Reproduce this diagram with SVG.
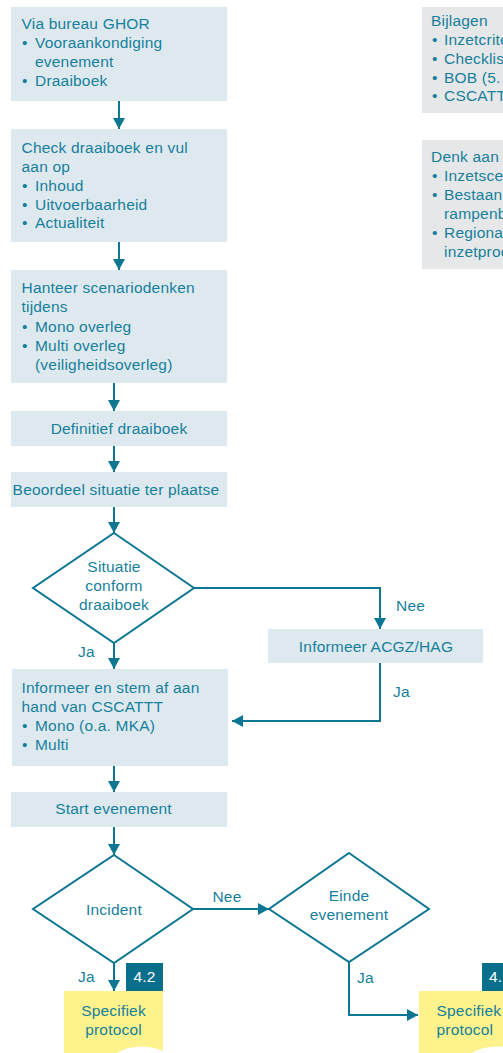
<svg xmlns="http://www.w3.org/2000/svg" width="503" height="1053" viewBox="0 0 503 1053">
<style>
text{font-family:"Liberation Sans",Arial,Helvetica,sans-serif;font-size:15.5px;letter-spacing:0.2px;fill:#167f9c}
.box{fill:#dee9ef}
.gray{fill:#e6e7e8}
.dia{fill:#ffffff;stroke:#0c7693;stroke-width:2}
.doc{fill:#fdf28b}
.badge{fill:#0a6f8b}
.bt{fill:#ffffff}
.c{text-anchor:middle}
.ln{fill:none;stroke:#0c7693;stroke-width:2}
</style>
<defs>
<marker id="ah" markerUnits="userSpaceOnUse" markerWidth="12" markerHeight="12" refX="11" refY="6" orient="auto">
<path d="M0,0 L11,6 L0,12 z" fill="#0c7693"/>
</marker>
</defs>
<rect width="503" height="1053" fill="#ffffff"/>

<g id="connectors">
<path class="ln" d="M119,101 V129" marker-end="url(#ah)"/>
<path class="ln" d="M119,242 V270" marker-end="url(#ah)"/>
<path class="ln" d="M114,383 V411" marker-end="url(#ah)"/>
<path class="ln" d="M114,446 V472" marker-end="url(#ah)"/>
<path class="ln" d="M114,507 V533" marker-end="url(#ah)"/>
<path class="ln" d="M194,588 H380 V629" marker-end="url(#ah)"/>
<path class="ln" d="M114,643 V669" marker-end="url(#ah)"/>
<path class="ln" d="M380,663 V721 H232" marker-end="url(#ah)"/>
<path class="ln" d="M114,766 V792" marker-end="url(#ah)"/>
<path class="ln" d="M114,827 V855" marker-end="url(#ah)"/>
<path class="ln" d="M193,909 H269" marker-end="url(#ah)"/>
<path class="ln" d="M114,963 V991" marker-end="url(#ah)"/>
<path class="ln" d="M349,962 V1015 H418" marker-end="url(#ah)"/>
<text x="396" y="611">Nee</text>
<text x="78" y="657">Ja</text>
<text x="393" y="697">Ja</text>
<text x="227" y="902" class="c">Nee</text>
<text x="78" y="982">Ja</text>
<text x="357" y="983">Ja</text>
</g>

<g id="n-via">
<rect class="box" x="11" y="7" width="216" height="94"/>
<text x="21.5" y="29">Via bureau GHOR</text>
<text x="22" y="48">•</text><text x="35" y="48">Vooraankondiging</text>
<text x="35" y="67">evenement</text>
<text x="22" y="86">•</text><text x="35" y="86">Draaiboek</text>
</g>

<g id="n-check">
<rect class="box" x="11" y="129" width="216" height="113"/>
<text x="21.5" y="152.5">Check draaiboek en vul</text>
<text x="21.5" y="171.5">aan op</text>
<text x="22" y="190.5">•</text><text x="35" y="190.5">Inhoud</text>
<text x="22" y="209.5">•</text><text x="35" y="209.5">Uitvoerbaarheid</text>
<text x="22" y="228">•</text><text x="35" y="228">Actualiteit</text>
</g>

<g id="n-hanteer">
<rect class="box" x="11" y="270" width="216" height="113"/>
<text x="21.5" y="293">Hanteer scenariodenken</text>
<text x="21.5" y="312">tijdens</text>
<text x="22" y="332">•</text><text x="35" y="332">Mono overleg</text>
<text x="22" y="351">•</text><text x="35" y="351">Multi overleg</text>
<text x="35" y="370">(veiligheidsoverleg)</text>
</g>

<g id="n-definitief">
<rect class="box" x="11" y="411" width="216" height="35"/>
<text x="119" y="433.5" class="c">Definitief draaiboek</text>
</g>

<g id="n-beoordeel">
<rect class="box" x="11" y="472" width="216" height="35"/>
<text x="116" y="495" class="c">Beoordeel situatie ter plaatse</text>
</g>

<g id="n-situatie">
<polygon class="dia" points="114,533 194,588 114,643 33,588"/>
<text x="114" y="571.5" class="c">Situatie</text>
<text x="114" y="590.5" class="c">conform</text>
<text x="114" y="609.5" class="c">draaiboek</text>
</g>

<g id="n-acgz">
<rect class="box" x="268" y="629" width="215" height="34"/>
<text x="376" y="652.3" class="c">Informeer ACGZ/HAG</text>
</g>

<g id="n-informeer">
<rect class="box" x="12" y="669" width="216" height="97"/>
<text x="21.5" y="693">Informeer en stem af aan</text>
<text x="21.5" y="712">hand van CSCATTT</text>
<text x="22" y="731">•</text><text x="35" y="731">Mono (o.a. MKA)</text>
<text x="22" y="750">•</text><text x="35" y="750">Multi</text>
</g>

<g id="n-start">
<rect class="box" x="11" y="792" width="216" height="35"/>
<text x="113.5" y="814.3" class="c">Start evenement</text>
</g>

<g id="n-incident">
<polygon class="dia" points="114,855 193,909 114,963 33,909"/>
<text x="114" y="915" class="c">Incident</text>
</g>

<g id="n-einde">
<polygon class="dia" points="349,853 429,909 349,962 269,909"/>
<text x="349" y="901" class="c">Einde</text>
<text x="349" y="920" class="c">evenement</text>
</g>

<g id="n-protocol1">
<path class="doc" d="M64,991 H163 V1051 C148,1044 128,1045 113,1055 C98,1064 80,1066 64,1062 Z"/>
<rect class="badge" x="126" y="963" width="37" height="28"/>
<text x="144.5" y="982.3" class="c bt">4.2</text>
<text x="113.5" y="1016" class="c">Specifiek</text>
<text x="113.5" y="1035" class="c">protocol</text>
</g>

<g id="n-protocol2">
<path class="doc" d="M419,991 H518 V1051 C503,1044 483,1045 468,1055 C453,1064 435,1066 419,1062 Z"/>
<rect class="badge" x="482" y="963" width="37" height="28"/>
<text x="489" y="982.3" class="bt">4.</text>
<text x="436.5" y="1016">Specifiek</text>
<text x="436.5" y="1035">protocol</text>
</g>

<g id="n-bijlagen">
<rect class="gray" x="422" y="7" width="81" height="106"/>
<text x="431" y="26">Bijlagen</text>
<text x="432" y="45">•</text><text x="444" y="45">Inzetcrite</text>
<text x="432" y="64">•</text><text x="444" y="64">Checklis</text>
<text x="432" y="82.5">•</text><text x="444" y="82.5">BOB (5.</text>
<text x="432" y="101">•</text><text x="444" y="101">CSCATT</text>
</g>

<g id="n-denkaan">
<rect class="gray" x="422" y="140" width="81" height="129"/>
<text x="431" y="161.5">Denk aan</text>
<text x="432" y="180.5">•</text><text x="444" y="180.5">Inzetsce</text>
<text x="432" y="199.5">•</text><text x="444" y="199.5">Bestaan</text>
<text x="444" y="218.5">rampenb</text>
<text x="432" y="237.5">•</text><text x="444" y="237.5">Regiona</text>
<text x="444" y="256.5">inzetproc</text>
</g>
</svg>
